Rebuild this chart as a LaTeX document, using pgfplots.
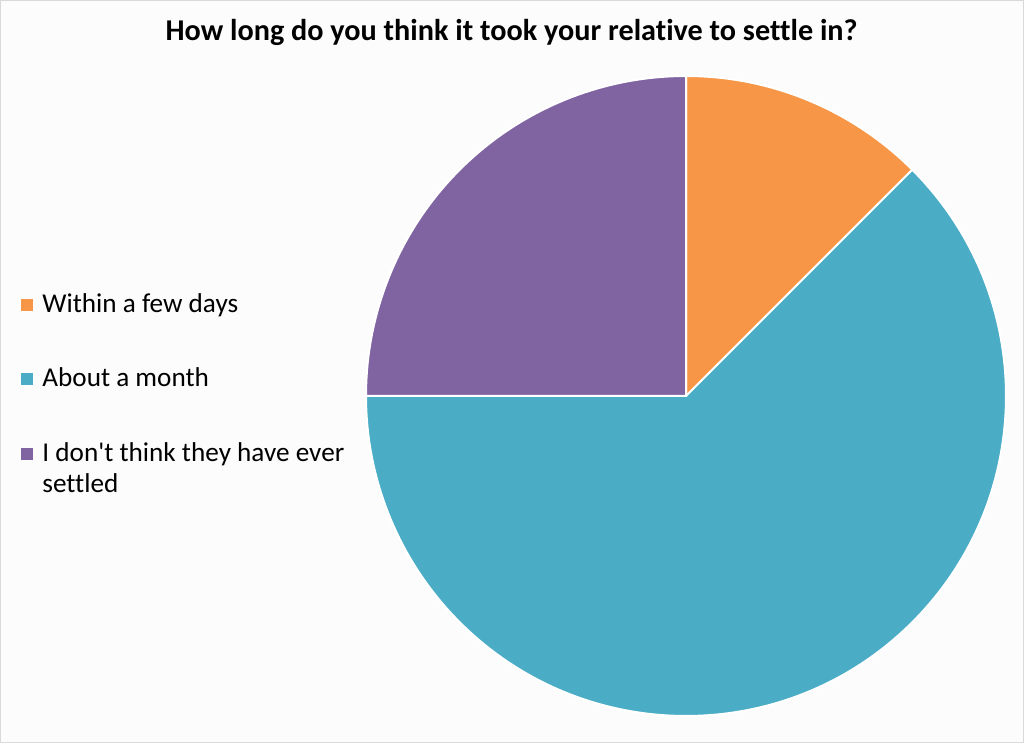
\documentclass[border=0pt]{standalone}
\usepackage{pgfplots}
\pgfplotsset{compat=1.18}
\usepackage{fontspec}
\setmainfont{Carlito}[Ligatures={TeXOff,NoCommon}]
\definecolor{cOrange}{HTML}{F79646}
\definecolor{cTeal}{HTML}{4BACC6}
\definecolor{cPurple}{HTML}{8064A2}
\definecolor{bgC}{HTML}{FCFCFC}
\definecolor{bdC}{HTML}{D9D9D9}
% slice values (percent)
\def\vA{12.5}% Within a few days
\def\vB{62.5}% About a month
\def\vC{25}%   I don't think they have ever settled
\pgfmathsetmacro{\aZero}{90}
\pgfmathsetmacro{\aOne}{\aZero-3.6*\vA}
\pgfmathsetmacro{\aTwo}{\aOne-3.6*\vB}
\pgfmathsetmacro{\aThree}{\aTwo-3.6*\vC}
\begin{document}
\begin{tikzpicture}
\fill[bgC] (0,0) rectangle (512pt,371.5pt);
\draw[bdC, line width=0.5pt] (0.25pt,0.25pt) rectangle (511.75pt,371.25pt);
\useasboundingbox (0,0) rectangle (512pt,371.5pt);
\begin{axis}[at={(0,0)}, anchor=origin, x=0.5pt, y=0.5pt,
  xmin=0, xmax=1024, ymin=0, ymax=743, hide axis, clip=false]
\addplot[draw=none] coordinates {(0,0) (1024,743)};
\filldraw[fill=cOrange, draw=white, line width=1pt] (axis cs:686,347) -- ++(\aZero:160pt) arc[start angle=\aZero, end angle=\aOne, radius=160pt] -- cycle;
\filldraw[fill=cTeal, draw=white, line width=1pt] (axis cs:686,347) -- ++(\aOne:160pt) arc[start angle=\aOne, end angle=\aTwo, radius=160pt] -- cycle;
\filldraw[fill=cPurple, draw=white, line width=1pt] (axis cs:686,347) -- ++(\aTwo:160pt) arc[start angle=\aTwo, end angle=\aThree, radius=160pt] -- cycle;
\node[anchor=base, font=\fontsize{15.1}{18}\selectfont\bfseries] at (axis cs:511.5,702.3) {How long do you think it took your relative to settle in?};
\fill[cOrange] (axis cs:21,432) rectangle (axis cs:33,444);
\fill[cTeal] (axis cs:21,358.3) rectangle (axis cs:33,370.3);
\fill[cPurple] (axis cs:21,283.3) rectangle (axis cs:33,295.3);
\node[anchor=base west, inner sep=0pt, font=\fontsize{13.6}{16}\selectfont] at (axis cs:42,430) {Within a few days};
\node[anchor=base west, inner sep=0pt, font=\fontsize{13.6}{16}\selectfont] at (axis cs:42,356.3) {About a month};
\node[anchor=base west, inner sep=0pt, font=\fontsize{13.6}{16}\selectfont] at (axis cs:42,281.3) {I don't think they have ever};
\node[anchor=base west, inner sep=0pt, font=\fontsize{13.6}{16}\selectfont] at (axis cs:42,250) {settled};
\end{axis}
\end{tikzpicture}
\end{document}
